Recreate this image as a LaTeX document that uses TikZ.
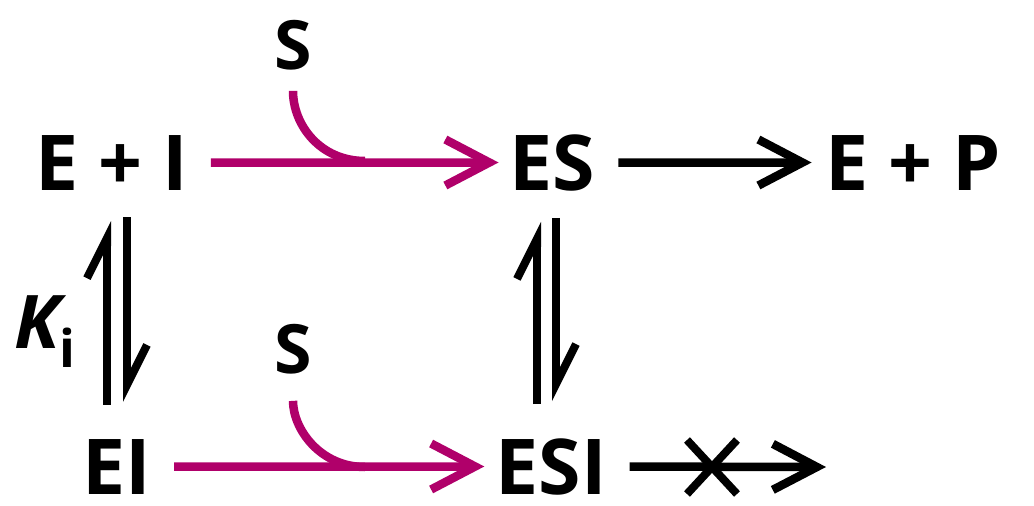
\documentclass[tikz,border=0pt]{standalone}
\usepackage{fontspec}
\setmainfont{Open Sans}
\usetikzlibrary{arrows.meta,calc}
\definecolor{mag}{RGB}{176,0,106}
\begin{document}
\begin{tikzpicture}[x=1pt,y=-1pt,
  lbl/.style={inner sep=0pt, anchor=base, font=\fontsize{77}{77}\selectfont\bfseries},
  slbl/.style={inner sep=0pt, anchor=base, font=\fontsize{68}{68}\selectfont\bfseries},
  rxn/.style={line width=8.5pt, -{Straight Barb[length=44pt,width=46pt]}},
  pinkrxn/.style={rxn, draw=mag},
  sjoin/.style={line width=8.5pt, draw=mag},
  harp/.style={line width=8pt, -{Straight Barb[left,length=40pt,width=40pt]}},
  crossline/.style={line width=8pt}]
\useasboundingbox[fill=white] (0,0) rectangle (1034,506);
% species
\node[lbl] (ei) at (111.5,190) {E + I};
\node[lbl] (es) at (552.5,190) {ES};
\node[lbl] (ep) at (913.5,190) {E + P};
\node[lbl] (eil) at (116.5,494) {EI};
\node[lbl] (esi) at (551,494) {ESI};
\node[slbl] (s1) at (293,69) {S};
\node[slbl] (s2) at (293,373) {S};
\node[inner sep=0pt, anchor=base] (ki) at (45,348)
  {{\fontsize{74}{74}\selectfont\bfseries\itshape K}\raisebox{-19pt}{\fontsize{52}{52}\selectfont\bfseries i}};
% horizontal reactions
\draw[pinkrxn, shorten <=23pt, shorten >=11pt] (ei.east) -- (es.west);
\draw[pinkrxn, shorten <=23pt, shorten >=11pt] (eil.east) -- (esi.west);
\draw[rxn, shorten <=23pt, shorten >=14pt] (es.east) -- (ep.west);
\coordinate (m1) at (365,161);
\coordinate (m2) at (365,467);
\draw[sjoin, shorten <=21pt] (s1.south) .. controls +(0,55) and +(-45,0) .. (m1);
\draw[sjoin, shorten <=27pt] (s2.south) .. controls +(0,55) and +(-45,0) .. (m2);
\coordinate (blocked) at (826,467);
\draw[rxn, shorten <=23pt] (esi.east) -- (blocked);
\coordinate (xc) at (712,467);
\draw[crossline] ($(xc)+(-25,-27)$) -- ($(xc)+(25,27)$);
\draw[crossline] ($(xc)+(-25,27)$) -- ($(xc)+(25,-27)$);
% equilibria
\draw[harp, shorten <=34pt, shorten >=31pt] ([xshift=-9.5pt]eil.north) -- ([xshift=-9.5pt]eil.north |- ei.south);
\draw[harp, shorten <=27pt, shorten >=37pt] ([xshift=10.5pt]eil.north |- ei.south) -- ([xshift=10.5pt]eil.north);
\draw[harp, shorten <=34pt, shorten >=31pt] ([xshift=-14pt]esi.north) -- ([xshift=-14pt]esi.north |- es.south);
\draw[harp, shorten <=27pt, shorten >=37pt] ([xshift=5pt]esi.north |- es.south) -- ([xshift=5pt]esi.north);
\end{tikzpicture}
\end{document}
